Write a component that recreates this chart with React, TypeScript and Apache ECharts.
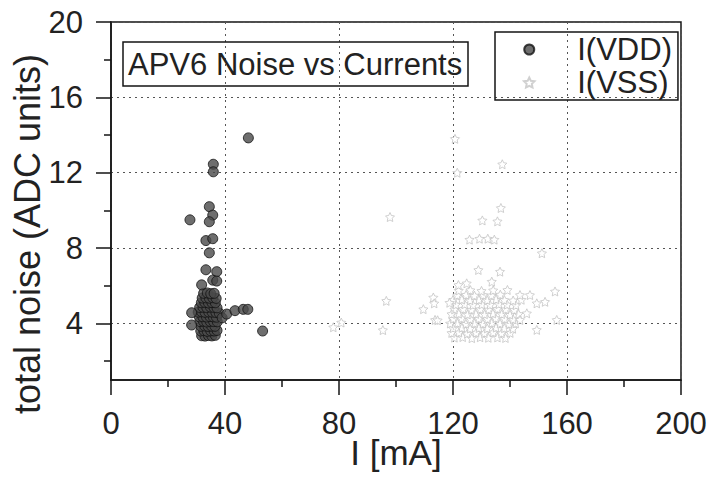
import React, { useEffect, useRef } from "react";
import * as echarts from "echarts";

// ---- data ----
const xTicks = [0, 40, 80, 120, 160, 200];
const yTicks = [4, 8, 12, 16, 20];
const yMinorTicks = [2, 6, 10, 14, 18];
const xName = "I [mA]";
const yName = "total noise (ADC units)";
const chartTitle = "APV6 Noise vs Currents";

const vddOutliers: number[][] = [
  [48.2, 13.85], [35.9, 12.45], [35.9, 12.05], [34.5, 10.2], [35.7, 9.75],
  [27.7, 9.5], [34.5, 9.4], [33.3, 8.4], [35.7, 8.5], [34.5, 7.75],
  [33.3, 6.85], [37.1, 6.75], [35.7, 6.3], [37.1, 6.25], [31.8, 6.05],
  [28.3, 4.57], [28.3, 3.92], [39.0, 4.3], [40.6, 4.5], [43.5, 4.68],
  [46.4, 4.75], [48.0, 4.75], [53.2, 3.6],
];

const vddCluster: number[][] = [
  [31.8, 3.35], [33.0, 3.33], [34.2, 3.36], [35.4, 3.34], [36.6, 3.37],
  [31.5, 3.6], [32.6, 3.62], [33.8, 3.58], [35.0, 3.61], [36.2, 3.6], [37.2, 3.63],
  [31.6, 3.85], [32.9, 3.87], [34.1, 3.84], [35.3, 3.86], [36.5, 3.85],
  [31.2, 4.1], [32.4, 4.12], [33.6, 4.08], [34.8, 4.11], [36.0, 4.1], [37.3, 4.09],
  [31.0, 4.35], [32.2, 4.36], [33.5, 4.34], [34.7, 4.37], [35.9, 4.35], [37.0, 4.33],
  [30.6, 4.6], [31.8, 4.62], [33.0, 4.59], [34.3, 4.61], [35.5, 4.6], [36.8, 4.58], [38.0, 4.55],
  [31.1, 4.85], [32.3, 4.86], [33.6, 4.84], [34.9, 4.87], [36.1, 4.85], [37.2, 4.83],
  [31.7, 5.1], [32.9, 5.12], [34.2, 5.09], [35.4, 5.11], [36.6, 5.1],
  [32.0, 5.35], [33.3, 5.36], [34.5, 5.34], [35.7, 5.37], [36.9, 5.33],
  [32.5, 5.6], [33.8, 5.62], [35.0, 5.58], [36.2, 5.6],
];

const vssOutliers: number[][] = [
  [120.7, 13.8], [137.3, 12.45], [121.5, 12.0], [97.9, 9.65], [136.8, 10.13],
  [130.3, 9.47], [135.6, 9.42], [125.8, 8.45], [129.3, 8.5], [132.2, 8.5],
  [134.5, 8.45], [151.2, 7.73], [128.9, 6.84], [136.5, 6.75], [133.6, 6.22],
  [124.8, 6.13], [121.9, 6.04], [139.1, 5.78], [143.5, 5.51], [147.0, 5.51],
  [155.8, 5.7], [152.3, 5.15], [149.4, 5.07], [145.9, 4.54], [143.5, 4.19],
  [156.4, 4.19], [149.4, 3.66], [113.1, 5.38], [113.4, 5.07], [109.6, 4.76],
  [113.7, 4.19], [114.6, 4.17], [118.8, 5.1], [96.6, 5.2], [95.4, 3.65],
  [80.8, 4.05], [78.0, 3.8],
];

const vssCluster: number[][] = [
  [120.5, 3.25], [123.4, 3.28], [126.6, 3.22], [129.5, 3.27], [132.4, 3.24], [135.6, 3.26], [138.4, 3.23],
  [119.5, 3.5], [122.1, 3.52], [125.0, 3.47], [128.1, 3.51], [131.0, 3.49], [134.1, 3.53], [137.0, 3.48], [140.1, 3.5],
  [120.0, 3.75], [123.1, 3.77], [126.0, 3.73], [129.1, 3.76], [132.0, 3.74], [135.1, 3.78], [138.0, 3.75], [141.0, 3.72],
  [119.0, 4.0], [121.6, 4.02], [124.5, 3.98], [127.6, 4.01], [130.5, 3.99], [133.6, 4.03], [136.5, 4.0], [139.6, 3.97], [142.0, 4.01],
  [120.1, 4.25], [123.0, 4.27], [126.1, 4.23], [129.0, 4.26], [132.1, 4.24], [135.0, 4.28], [138.1, 4.25], [141.1, 4.22],
  [119.5, 4.5], [122.0, 4.52], [125.1, 4.48], [128.0, 4.51], [131.1, 4.49], [134.0, 4.53], [137.1, 4.5], [140.0, 4.47], [143.0, 4.5],
  [120.5, 4.75], [123.6, 4.77], [126.5, 4.73], [129.6, 4.76], [132.5, 4.74], [135.6, 4.78], [138.5, 4.75], [141.5, 4.72],
  [121.0, 5.0], [124.1, 5.02], [127.0, 4.98], [130.1, 5.01], [133.0, 4.99], [136.1, 5.03], [139.0, 5.0], [142.1, 4.97],
  [120.0, 5.25], [123.1, 5.27], [126.0, 5.23], [129.1, 5.26], [132.0, 5.24], [135.1, 5.28], [138.0, 5.25], [141.1, 5.22], [144.0, 5.26],
  [121.5, 5.5], [124.6, 5.52], [127.5, 5.48], [130.6, 5.51], [133.5, 5.49], [136.6, 5.53],
  [122.0, 5.75], [126.1, 5.77], [130.0, 5.73], [134.1, 5.76],
];

const STAR =
  "path://M0,-10 L2.9,-4 L9.5,-3.1 L4.7,1.5 L5.9,8.1 L0,5 L-5.9,8.1 L-4.7,1.5 L-9.5,-3.1 L-2.9,-4 Z";

const FONT = "'Liberation Sans', Arial, sans-serif";
const INK = "#151515";

export default function App() {
  const ref = useRef<HTMLDivElement>(null);

  useEffect(() => {
    if (!ref.current) return;
    const chart = echarts.init(ref.current, null, { renderer: "svg" });
    const lineStyle = { color: INK, width: 1.5 };
    chart.setOption({
      animation: false,
      backgroundColor: "#ffffff",
      textStyle: { fontFamily: FONT },
      grid: {
        left: 111,
        top: 22,
        right: 29,
        bottom: 98,
        show: true,
        borderColor: INK,
        borderWidth: 1.5,
        containLabel: false,
        outerBoundsMode: "none",
      },
      title: {
        text: chartTitle,
        left: 123,
        top: 42,
        borderColor: INK,
        borderWidth: 1.5,
        padding: [3, 6, 3, 5],
        textStyle: {
          fontFamily: FONT,
          fontSize: 31,
          fontWeight: "normal",
          color: "#222",
          lineHeight: 38,
        },
      },
      legend: {
        orient: "vertical",
        left: 495,
        top: 32,
        padding: [1, 6, 1, 28],
        itemGap: 0,
        itemWidth: 14,
        itemHeight: 10,
        borderColor: INK,
        borderWidth: 1.5,
        textStyle: {
          fontFamily: FONT,
          fontSize: 31,
          color: "#222",
          lineHeight: 33,
          padding: [0, 0, 0, 36],
        },
        data: [{ name: "I(VDD)" }, { name: "I(VSS)" }],
      },
      graphic: [
        {
          type: "text",
          x: 27,
          y: 234,
          rotation: Math.PI / 2,
          style: {
            text: yName,
            fontFamily: FONT,
            fontSize: 36,
            fill: "#222",
            align: "center",
            verticalAlign: "middle",
          },
        },
      ],
      xAxis: {
        type: "value",
        min: xTicks[0],
        max: xTicks[xTicks.length - 1],
        interval: xTicks[1] - xTicks[0],
        name: xName,
        nameLocation: "middle",
        nameGap: 52,
        nameMoveOverlap: false,
        nameTextStyle: { fontFamily: FONT, fontSize: 35, color: "#222", lineHeight: 40 },
        axisLine: { show: true, onZero: false, lineStyle },
        axisTick: { show: true, length: 15, lineStyle },
        minorTick: { show: true, splitNumber: 2, length: 7, lineStyle },
        axisLabel: { fontFamily: FONT, fontSize: 31, color: "#222", margin: 28 },
        splitLine: { show: true, lineStyle: { color: "#555", width: 1, type: [2, 4] } },
      },
      yAxis: [
        {
          type: "value",
          min: 1,
          max: 20,
          position: "left",
          axisLine: { show: true, onZero: false, lineStyle },
          axisTick: { show: true, length: 15, lineStyle, customValues: yTicks },
          axisLabel: {
            fontFamily: FONT,
            fontSize: 31,
            color: "#222",
            margin: 28,
            customValues: yTicks,
          },
          splitLine: { show: true, lineStyle: { color: "#555", width: 1, type: [2, 4] } },
        },
        {
          type: "value",
          min: 1,
          max: 20,
          position: "left",
          axisLine: { show: false },
          axisLabel: { show: false },
          splitLine: { show: false },
          axisTick: { show: true, length: 7, lineStyle, customValues: yMinorTicks },
        },
      ],
      series: [
        {
          name: "I(VDD)",
          type: "scatter",
          yAxisIndex: 0,
          symbol: "circle",
          symbolSize: 10,
          data: [...vddCluster, ...vddOutliers],
          itemStyle: { color: "#4a4a4a", borderColor: "#111", borderWidth: 1 },
        },
        {
          name: "I(VSS)",
          type: "scatter",
          yAxisIndex: 0,
          symbol: STAR,
          symbolSize: 9,
          data: [...vssCluster, ...vssOutliers],
          itemStyle: { color: "#ffffff", borderColor: "#c4c4c4", borderWidth: 1 },
        },
      ],
    });
    return () => chart.dispose();
  }, []);

  return (
    <div
      ref={ref}
      style={{ position: "fixed", left: 0, top: 0, width: 710, height: 478, background: "#fff" }}
    />
  );
}
